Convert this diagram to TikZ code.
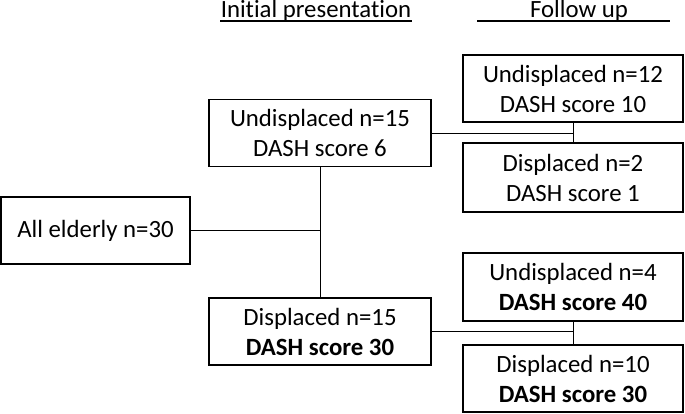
\documentclass[tikz,border=0pt]{standalone}
\usepackage{fontspec}
\setmainfont{Carlito}[Ligatures=NoCommon]
\begin{document}
\begin{tikzpicture}[x=1pt,y=-1pt,
    box/.style={draw,line width=1.6pt,minimum width=220pt,minimum height=67pt,
      align=center,inner sep=0pt,font=\fontsize{24.8}{30}\selectfont},
    head/.style={anchor=base,inner sep=0pt,font=\fontsize{24.8}{30}\selectfont},
    link/.style={line width=0.8pt}]
  \useasboundingbox (0,0) rectangle (685,413);
  % headings
  \node [head] (hdinit) at (316,17.5) {Initial presentation};
  \node [head] (hdfollow) at (579,17.5) {Follow up};
  \draw [line width=1.4pt] (220,21) -- (412,21);
  \draw [line width=1.4pt] (477,21) -- (670,21);
  % boxes
  \node [box,minimum width=189pt] (all) at (95.5,230.5) {All elderly n=30};
  \node [box,minimum width=222pt] (und15) at (320,133) {Undisplaced n=15\\DASH score 6};
  \node [box,minimum width=222pt] (dis15) at (320,331.5) {Displaced n=15\\\textbf{DASH score 30}};
  \node [box] (und12) at (573,88.5) {Undisplaced n=12\\DASH score 10};
  \node [box,minimum height=69pt] (dis2) at (573,177.5) {Displaced n=2\\DASH score 1};
  \node [box,minimum height=68pt] (und4) at (573,287) {Undisplaced n=4\\\textbf{DASH score 40}};
  \node [box] (dis10) at (573,378.5) {Displaced n=10\\\textbf{DASH score 30}};
  % links
  \draw [link] (und15) -- (dis15);
  \draw [link] (all.east) -- (all.east -| und15.south);
  \draw [link] (und12) -- (dis2);
  \draw [link] (und15.east) -- (und15.east -| und12.south);
  \draw [link] (und4) -- (dis10);
  \draw [link] (dis15.east) -- (dis15.east -| und4.south);
\end{tikzpicture}
\end{document}
